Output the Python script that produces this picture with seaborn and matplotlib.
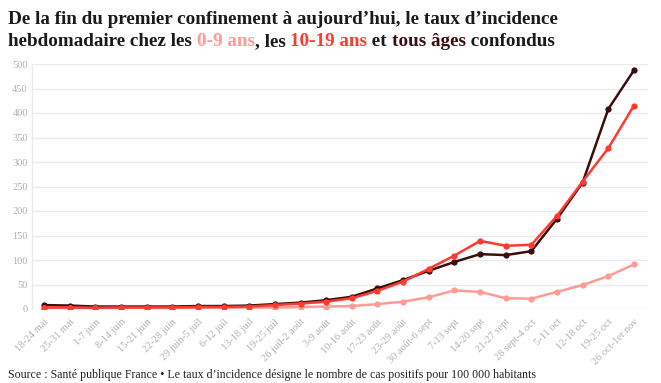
"""
Taux d'incidence hebdomadaire par classe d'âge, de mai à novembre 2020.
"""
import matplotlib
matplotlib.use("Agg")
import matplotlib.pyplot as plt
import pandas as pd
import seaborn as sns


WEEKS = [
    "18-24 mai", "25-31 mai", "1-7 juin", "8-14 juin", "15-21 juin",
    "22-28 juin", "29 juin-5 juil", "6-12 juil", "13-18 juil", "19-25 juil",
    "26 juil-2 août", "3-9 août", "10-16 août", "17-23 août", "23-29 août",
    "30 août-6 sept", "7-13 sept", "14-20 sept", "21-27 sept", "28 sept-4 oct",
    "5-11 oct", "12-18 oct", "19-25 oct", "26 oct-1er nov",
]
TOUS_AGES = [8, 7, 5, 5, 5, 5, 6, 6, 7, 10, 13, 18, 25, 42, 59, 78,
             96, 112, 110, 118, 184, 258, 408, 487]
AGES_10_19 = [3, 3, 2, 3, 3, 3, 4, 4, 5, 8, 11, 15, 22, 37, 56, 82,
              109, 139, 129, 131, 190, 260, 328, 415]
AGES_0_9 = [2, 2, 2, 2, 2, 2, 2, 3, 3, 3, 4, 5, 6, 10, 15, 24,
            38, 35, 22, 21, 35, 49, 67, 91]
Y_TICKS = list(range(0, 501, 50))

COLORS = {"tous âges": "#3b0d0d", "0-9 ans": "#ff9b95", "10-19 ans": "#ff3b2f"}
SERIF = ["Liberation Serif", "DejaVu Serif"]


def build_frame() -> pd.DataFrame:
    rows = []
    for name, values in [("tous âges", TOUS_AGES), ("0-9 ans", AGES_0_9),
                         ("10-19 ans", AGES_10_19)]:
        for i, (week, v) in enumerate(zip(WEEKS, values)):
            rows.append({"pos": i, "semaine": week, "groupe": name, "taux": v})
    return pd.DataFrame(rows)


def colored_line(fig, x, y, parts, **kw):
    """Write a line of text made of pieces with their own colours."""
    renderer = fig.canvas.get_renderer()
    for text, color in parts:
        t = fig.text(x, y, text, color=color, **kw)
        bb = t.get_window_extent(renderer=renderer)
        x += bb.width / fig.bbox.width


def main() -> None:
    sns.set_theme(style="white")
    plt.rcParams["font.family"] = SERIF

    df = build_frame()
    fig = plt.figure(figsize=(6.61, 3.83), dpi=100)
    ax = fig.add_axes([32 / 661, 1 - 309 / 383, 616 / 661, 245 / 383])

    sns.lineplot(data=df, x="pos", y="taux", hue="groupe", palette=COLORS,
                 hue_order=["tous âges", "0-9 ans", "10-19 ans"],
                 marker="o", markersize=4.5, markeredgewidth=0,
                 linewidth=1.8, legend=False, ax=ax)

    ax.set_xlim(-0.47, len(WEEKS) - 1 + 0.55)
    ax.set_ylim(0, 500)
    ax.set_yticks(Y_TICKS)
    ax.set_xticks(range(len(WEEKS)))
    ax.set_xticklabels(WEEKS, rotation=45, ha="right", rotation_mode="anchor")
    ax.tick_params(axis="both", labelsize=7.5, colors="#b0b0b0", length=0, pad=3)
    ax.tick_params(axis="x", length=4, width=0.6, color="#e6e6e6", pad=2)
    ax.set_xlabel("")
    ax.set_ylabel("")
    ax.grid(axis="y", color="#ebebeb", linewidth=1)
    for side in ["top", "right", "bottom"]:
        ax.spines[side].set_visible(False)
    ax.spines["left"].set_color("#ebebeb")
    ax.spines["left"].set_linewidth(1)

    title_kw = dict(fontsize=13.8, fontweight="bold", va="baseline")
    fig.text(8 / 661, 1 - 24 / 383,
             "De la fin du premier confinement à aujourd’hui, le taux d’incidence",
             color="#1a1a1a", **title_kw)
    colored_line(fig, 8 / 661, 1 - 46 / 383, [
        ("hebdomadaire chez les ", "#1a1a1a"),
        ("0-9 ans", COLORS["0-9 ans"]),
        (", les ", "#1a1a1a"),
        ("10-19 ans", COLORS["10-19 ans"]),
        (" et ", "#1a1a1a"),
        ("tous âges", COLORS["tous âges"]),
        (" confondus", "#1a1a1a"),
    ], **title_kw)

    fig.text(8 / 661, 1 - 378 / 383,
             "Source : Santé publique France • Le taux d’incidence désigne le "
             "nombre de cas positifs pour 100 000 habitants",
             fontsize=8.6, color="#222222", va="baseline")

    fig.savefig("out.png", dpi=100)


if __name__ == "__main__":
    main()
